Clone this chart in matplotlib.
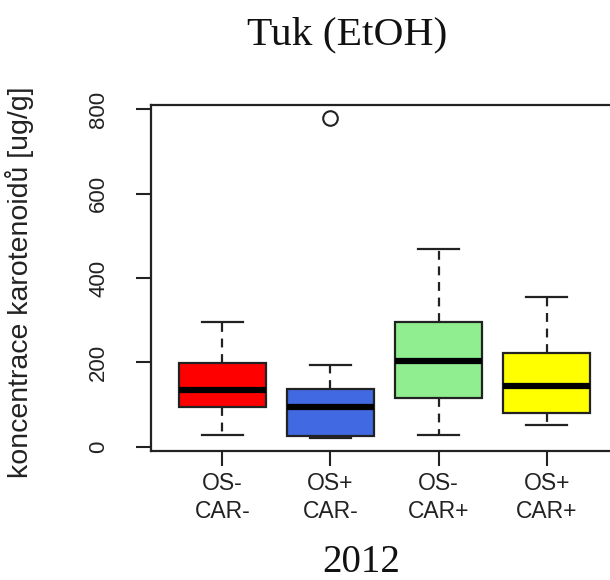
import matplotlib
matplotlib.use("Agg")
import matplotlib.pyplot as plt

categories = ["OS-\nCAR-", "OS+\nCAR-", "OS-\nCAR+", "OS+\nCAR+"]
whisker_low = [28, 20, 28, 52]
q1 = [93, 24, 115, 79]
medians = [135, 94, 204, 143]
q3 = [198, 137, 295, 222]
whisker_high = [295, 194, 469, 354]
outliers = [[], [780], [], []]
colors = ["#FF0000", "#4169E1", "#90EE90", "#FFFF00"]
yticks = [0, 200, 400, 600, 800]

fig = plt.figure(figsize=(6.1, 5.8), dpi=100)
ax = fig.add_axes([151/610, 1-451/580, (618-151)/610, (451-105)/580])

stats = []
for i in range(len(categories)):
    stats.append(dict(whislo=whisker_low[i], q1=q1[i], med=medians[i],
                      q3=q3[i], whishi=whisker_high[i], fliers=outliers[i]))

bp = ax.bxp(stats, positions=range(1, len(categories)+1), widths=0.8,
            patch_artist=True, showfliers=True,
            boxprops=dict(linewidth=1.6, edgecolor="#222222"),
            medianprops=dict(color="black", linewidth=4.5, solid_capstyle="butt"),
            whiskerprops=dict(color="#222222", linewidth=1.6, linestyle=(0, (4, 3))),
            capprops=dict(color="#222222", linewidth=1.6),
            flierprops=dict(marker="o", markersize=10.5, markerfacecolor="none",
                            markeredgecolor="#222222", markeredgewidth=1.5))
for patch, c in zip(bp["boxes"], colors):
    patch.set_facecolor(c)
for cap in bp["caps"]:
    x0, x1 = cap.get_xdata()
    m = (x0 + x1) / 2
    cap.set_xdata([m - 0.19, m + 0.19])

ax.set_xlim(0.34, 4.66)
ax.set_ylim(-10.4, 810.4)
ax.set_yticks(yticks)
ax.set_yticklabels([str(v) for v in yticks], rotation=90, va="center",
                   fontsize=16, family="Liberation Sans", color="#222222")
ax.set_xticks(range(1, len(categories)+1))
ax.set_xticklabels(categories, fontsize=16.5, family="Liberation Sans",
                   color="#222222", linespacing=1.3)
ax.tick_params(axis="both", length=11, width=1.5, color="#222222")
ax.tick_params(axis="y", pad=19)
ax.tick_params(axis="x", pad=4)
for s in ax.spines.values():
    s.set_linewidth(1.6)
    s.set_color("#222222")

fig.text(20/610, 1-282/580, "koncentrace karotenoidů [ug/g]", fontsize=20.5,
         family="Liberation Sans", color="#222222", rotation=90,
         ha="center", va="center")

fig.text(347/610, 1-44/580, "Tuk (EtOH)", fontsize=29.8, family="Liberation Serif",
         ha="center", va="baseline", color="#111111")
fig.text(361/610, 1-572/580, "2012", fontsize=28, family="Liberation Serif",
         ha="center", va="baseline", color="#111111")

fig.savefig("out.png", dpi=100)
